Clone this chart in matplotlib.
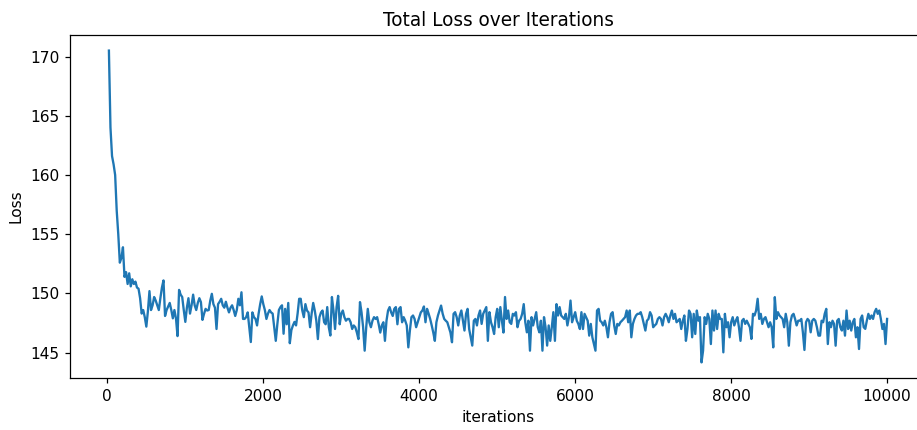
import numpy as np
import matplotlib
matplotlib.use("Agg")
import matplotlib.pyplot as plt

# Loss logged every 20 iterations
step = 20
n_iters = 10000

loss_0020_1180 = [
    170.5, 164.0, 161.6, 160.9, 160.0, 157.0, 155.0, 152.6, 153.0, 153.9,
    151.4, 151.8, 150.8, 151.7, 150.6, 151.2, 150.8, 151.0, 150.5, 150.4,
    149.6, 148.3, 148.6, 148.0, 147.2, 148.5, 150.2, 148.6, 149.0, 149.7,
    149.4, 149.0, 148.6, 149.6, 150.5, 151.1, 148.1, 148.6, 148.9, 149.2,
    148.6, 147.9, 148.6, 147.9, 146.4, 150.3, 149.9, 149.7, 148.6, 147.6,
    148.8, 149.6, 148.3, 149.0, 149.9, 149.0, 148.6, 149.2, 149.6,
]
loss_1200_2460 = [
    149.27, 147.77, 148.28, 148.70, 148.56, 148.60, 149.40, 149.97, 149.10, 148.80,
    147.00, 149.10, 149.30, 149.55, 149.00, 148.80, 149.30, 148.80, 148.40, 148.80,
    149.00, 148.60, 148.10, 148.60, 149.55, 149.00, 150.10, 147.85, 147.85, 148.00,
    148.40, 147.15, 145.90, 148.40, 148.00, 147.85, 147.30, 148.30, 149.10, 149.75,
    149.10, 148.60, 147.85, 148.30, 148.60, 148.40, 148.30, 147.15, 146.00, 147.40,
    148.60, 148.85, 149.00, 146.60, 148.70, 147.40, 149.20, 145.80, 146.90, 147.30,
    147.60, 147.30, 148.30, 149.55,
]
loss_2480_3740 = [
    149.55, 148.56, 148.00, 149.10, 148.56, 148.40, 147.15, 148.30, 149.20, 148.56,
    147.70, 146.15, 148.00, 148.40, 148.56, 147.57, 147.40, 148.85, 147.15, 146.45,
    149.70, 148.56, 147.00, 148.85, 149.80, 147.40, 148.30, 148.56, 148.00, 147.70,
    147.85, 147.85, 147.57, 147.00, 147.30, 147.15, 146.70, 146.15, 149.27, 148.40,
    147.15, 145.17, 147.15, 148.70, 147.57, 147.15, 147.70, 148.00, 147.85, 148.00,
    147.40, 146.70, 147.30, 147.57, 146.00, 147.70, 148.56, 148.85, 148.40, 148.10,
    148.70, 148.85, 147.40, 148.70,
]
loss_3760_5020 = [
    148.85, 147.57, 148.00, 147.70, 147.30, 145.45, 146.87, 148.00, 148.14, 147.85,
    147.15, 147.57, 148.00, 148.40, 148.56, 148.90, 147.57, 148.70, 148.30, 147.85,
    147.30, 146.70, 146.00, 147.57, 148.14, 148.56, 148.98, 148.30, 147.85, 147.70,
    147.57, 147.15, 146.70, 145.88, 148.28, 148.42, 148.00, 147.30, 148.14, 148.56,
    147.70, 146.87, 148.28, 148.70, 147.00, 146.30, 145.60, 147.70, 147.85, 147.30,
    148.14, 148.56, 147.43, 148.28, 148.56, 148.85, 146.00, 148.42, 147.57, 147.15,
    146.58, 148.00, 148.70, 147.15,
]
loss_5040_6300 = [
    148.85, 147.70, 146.70, 149.70, 147.85, 148.56, 147.57, 147.43, 148.28, 148.14,
    148.42, 147.15, 147.70, 147.85, 148.28, 149.10, 147.57, 146.72, 147.70, 145.17,
    148.00, 147.30, 147.85, 148.42, 147.15, 146.72, 147.70, 145.17, 148.00, 147.15,
    145.60, 147.30, 146.00, 147.15, 148.42, 146.00, 149.10, 148.14, 148.85, 148.14,
    148.00, 147.85, 148.28, 147.30, 148.00, 149.40, 147.57, 148.00, 148.42, 147.70,
    147.43, 147.00, 148.42, 147.00, 148.28, 148.00, 147.70, 146.44, 147.43, 146.30,
    145.73, 145.17, 148.56, 148.70,
]
loss_6320_7580 = [
    147.70, 147.57, 147.30, 147.70, 147.15, 146.30, 147.57, 148.28, 148.42, 147.30,
    146.58, 147.43, 147.30, 147.57, 147.70, 147.85, 148.00, 148.56, 147.57, 148.56,
    146.30, 147.43, 147.85, 148.14, 148.28, 148.28, 148.42, 148.00, 147.43, 146.87,
    147.70, 147.85, 148.42, 148.14, 147.15, 147.30, 147.43, 147.85, 148.00, 147.85,
    147.30, 148.00, 148.28, 148.00, 147.57, 148.14, 148.56, 147.85, 148.28, 147.57,
    147.70, 147.85, 147.00, 147.70, 148.14, 146.00, 147.00, 148.56, 148.28, 146.30,
    148.28, 146.58, 148.56, 147.70,
]
loss_7600_8860 = [
    148.00, 144.18, 145.17, 148.00, 147.43, 148.28, 147.85, 145.73, 148.56, 146.87,
    148.56, 147.00, 148.28, 147.85, 147.85, 145.03, 148.28, 147.15, 147.57, 146.30,
    147.57, 148.00, 147.30, 147.70, 148.00, 147.15, 146.00, 147.70, 147.85, 147.43,
    147.70, 147.43, 147.15, 146.16, 148.28, 148.14, 148.56, 149.55, 147.85, 148.28,
    147.43, 147.85, 148.00, 147.57, 147.15, 147.57, 147.15, 145.45, 149.69, 147.85,
    148.42, 148.14, 148.00, 147.85, 147.15, 148.28, 147.57, 145.59, 147.57, 148.14,
    148.28, 147.85, 147.30, 147.70,
]
loss_8880_10000 = [
    147.70, 147.85, 146.72, 145.23, 147.57, 147.85, 147.70, 146.72, 147.70, 147.85,
    147.70, 147.15, 146.44, 146.44, 147.70, 147.57, 148.28, 148.70, 145.73, 147.57,
    147.15, 147.70, 147.43, 145.59, 147.70, 147.85, 147.15, 146.87, 147.70, 146.44,
    148.56, 147.00, 147.70, 146.87, 147.57, 147.85, 146.30, 147.15, 145.31, 147.85,
    148.14, 147.15, 147.01, 147.70, 148.28, 147.85, 148.14, 147.85, 148.42, 148.70,
    148.28, 148.56, 147.85, 147.00, 147.43, 145.73, 147.85,
]

total_loss = np.concatenate([
    loss_0020_1180, loss_1200_2460, loss_2480_3740, loss_3760_5020,
    loss_5040_6300, loss_6320_7580, loss_7600_8860, loss_8880_10000,
])
iterations = np.arange(step, n_iters + 1, step)[: len(total_loss)]

DPI = 111
W, H = 917, 430
fig = plt.figure(figsize=(W / DPI, H / DPI), dpi=DPI)
# axes extend slightly past the right edge of the canvas
ax = fig.add_axes([70 / W, 52 / H, 856 / W, 343 / H])
ax.plot(iterations, total_loss, color="#1f77b4", linewidth=1.5)
ax.set_title("Total Loss over Iterations")
ax.set_xlabel("iterations")
ax.set_ylabel("Loss")
ax.set_yticks([145, 150, 155, 160, 165, 170])
ax.set_xticks([0, 2000, 4000, 6000, 8000, 10000])

fig.savefig("out.png", dpi=DPI)
